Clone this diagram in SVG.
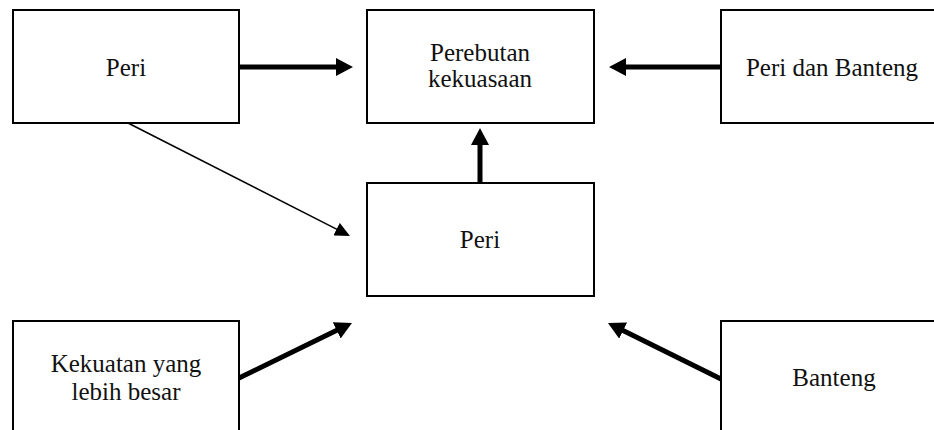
<svg xmlns="http://www.w3.org/2000/svg" width="934" height="430" viewBox="0 0 934 430">
<style>
.box{fill:#fff;stroke:#000;stroke-width:2}
.t{font-family:"Liberation Serif","Times New Roman",serif;font-size:25px;fill:#111;text-anchor:middle}
.thick{stroke:#000;stroke-width:5;fill:none}
.thin{stroke:#000;stroke-width:1.5;fill:none}
</style>
<defs>
<marker id="ah" markerUnits="userSpaceOnUse" markerWidth="18" markerHeight="18" refX="3" refY="9" orient="auto">
<path d="M0,0 L17,9 L0,18 z" fill="#000"/>
</marker>
<marker id="ahs" markerUnits="userSpaceOnUse" markerWidth="16" markerHeight="14" refX="1" refY="7" orient="auto">
<path d="M0,0 L15,7 L0,14 z" fill="#000"/>
</marker>
</defs>
<rect width="934" height="430" fill="#fff"/>
<g id="n-peri-top">
<rect class="box" x="13" y="10" width="226" height="113"/>
<text class="t" x="126" y="76">Peri</text>
</g>
<g id="n-perebutan">
<rect class="box" x="367" y="10" width="227" height="113"/>
<text class="t" x="480" y="61">Perebutan</text>
<text class="t" x="480" y="87">kekuasaan</text>
</g>
<g id="n-peri-banteng">
<rect class="box" x="721" y="10" width="224" height="113"/>
<text class="t" x="832" y="76">Peri dan Banteng</text>
</g>
<g id="n-peri-mid">
<rect class="box" x="367" y="183" width="227" height="113"/>
<text class="t" x="480" y="248">Peri</text>
</g>
<g id="n-kekuatan">
<rect class="box" x="13" y="321" width="226" height="120"/>
<text class="t" x="126" y="372">Kekuatan yang</text>
<text class="t" x="126" y="400">lebih besar</text>
</g>
<g id="n-banteng">
<rect class="box" x="721" y="321" width="224" height="120"/>
<text class="t" x="834" y="386">Banteng</text>
</g>
<g id="connectors">
<line class="thick" x1="239" y1="67" x2="339" y2="67" marker-end="url(#ah)"/>
<line class="thick" x1="721" y1="67" x2="623" y2="67" marker-end="url(#ah)"/>
<line class="thick" x1="480" y1="183" x2="480" y2="142" marker-end="url(#ah)"/>
<line class="thin" x1="128" y1="123" x2="337.5" y2="229.6" marker-end="url(#ahs)"/>
<line class="thick" x1="239" y1="378" x2="339.4" y2="329.1" marker-end="url(#ah)"/>
<line class="thick" x1="721" y1="379" x2="620.5" y2="329.2" marker-end="url(#ah)"/>
</g>
</svg>
